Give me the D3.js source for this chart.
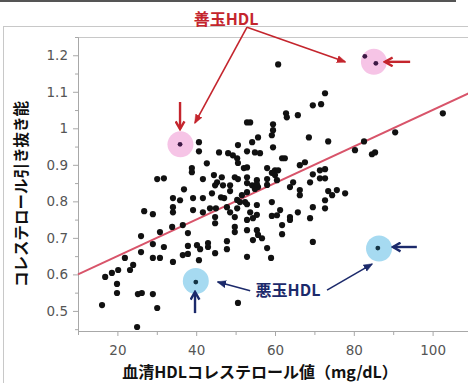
<!DOCTYPE html>
<html>
<head>
<meta charset="utf-8">
<script src="https://cdn.jsdelivr.net/npm/d3@7/dist/d3.min.js"></script>
<style>
  body { margin: 0; background: #fff; }
  svg { display: block; }
</style>
</head>
<body>
<div id="root"></div>
<script>
const WIDTH = 468
const HEIGHT = 383
const PLOT = { left: 78, top: 37, right: 472, bottom: 331 }
const DOT_RADIUS = 3.1
const HALO_RADIUS = 13

const JP_FONT = '"Noto Sans CJK JP", "Noto Sans", sans-serif'
const TICK_FONT = '"DejaVu Sans", Verdana, sans-serif'

const RED = '#c4252d'
const NAVY = '#1c2a6b'

// [serum HDL (mg/dL), cholesterol efflux capacity]
const samples = [
  [60.8, 1.175], [72.7, 1.096], [69.6, 1.063], [71.7, 1.066], [62.8, 1.041], [102.6, 1.041],
  [40.7, 0.962], [40.7, 0.937], [45.8, 0.934], [48.1, 0.932], [49.3, 0.926], [50.4, 0.918],
  [50.6, 0.954], [52.9, 0.937], [42.7, 0.904], [52.1, 0.891], [38.9, 0.891], [38.9, 0.880],
  [30.1, 0.861], [31.8, 0.863], [41.7, 0.861], [44.5, 0.872], [45.3, 0.852], [44.8, 0.844],
  [46.5, 0.866], [46.8, 0.844], [49.8, 0.866], [52.9, 0.866], [36.9, 0.833], [34.1, 0.809],
  [35.9, 0.803], [39.2, 0.809], [41.7, 0.809], [44.0, 0.822], [46.3, 0.811], [47.1, 0.809],
  [48.6, 0.844], [48.6, 0.828], [51.6, 0.817], [52.9, 0.825], [26.8, 0.773], [29.0, 0.765],
  [34.1, 0.784], [34.1, 0.770], [39.2, 0.776], [41.7, 0.770], [43.5, 0.781], [45.0, 0.781],
  [47.8, 0.784], [48.6, 0.770], [50.4, 0.781], [52.9, 0.792],
  [52.9, 1.016], [53.7, 1.016], [59.5, 1.011], [59.5, 0.995], [63.0, 1.030], [65.8, 1.036],
  [54.2, 0.962], [55.7, 0.975], [59.2, 0.981], [59.5, 0.948], [54.9, 0.934], [56.2, 0.932],
  [61.8, 0.918], [62.5, 0.918], [68.6, 0.975], [73.5, 0.964], [52.9, 0.893], [58.0, 0.891],
  [60.0, 0.885], [60.8, 0.885], [55.4, 0.858], [58.0, 0.861], [60.0, 0.872], [60.5, 0.858],
  [52.9, 0.850], [54.2, 0.844], [55.7, 0.839], [66.3, 0.899], [67.6, 0.907], [63.8, 0.839],
  [64.6, 0.852], [66.3, 0.831], [66.3, 0.817], [68.9, 0.852], [69.6, 0.874], [71.4, 0.885],
  [72.7, 0.888], [71.4, 0.863], [72.7, 0.863], [73.5, 0.828], [75.7, 0.831], [74.5, 0.817],
  [77.8, 0.822], [72.7, 0.803], [52.4, 0.798], [55.4, 0.790], [59.2, 0.798], [69.6, 0.784],
  [72.7, 0.781], [80.3, 0.940], [82.6, 0.964], [84.6, 0.929], [85.4, 0.934], [90.5, 0.989],
  [44.8, 0.757], [44.8, 0.740], [49.8, 0.757], [49.8, 0.730], [49.8, 0.716], [52.9, 0.749],
  [52.9, 0.721], [26.0, 0.705], [30.8, 0.716], [33.9, 0.730], [36.6, 0.735], [37.9, 0.713],
  [29.0, 0.683], [31.8, 0.675], [37.9, 0.678], [40.2, 0.680], [41.0, 0.669], [43.0, 0.686],
  [43.0, 0.675], [47.8, 0.691], [47.8, 0.669], [26.0, 0.661], [21.9, 0.645], [29.0, 0.645],
  [30.8, 0.645], [34.1, 0.634], [36.6, 0.653], [37.9, 0.656], [40.7, 0.639], [44.8, 0.658],
  [52.9, 0.648], [24.0, 0.626], [23.2, 0.612], [20.2, 0.612], [18.6, 0.604], [16.9, 0.593],
  [19.9, 0.574], [19.9, 0.549], [25.2, 0.546], [26.2, 0.549], [29.0, 0.546], [16.1, 0.516],
  [30.1, 0.508], [50.6, 0.522], [25.0, 0.456],
  [53.7, 0.770], [54.4, 0.754], [59.2, 0.760], [60.5, 0.762], [63.8, 0.757], [63.8, 0.749],
  [65.8, 0.770], [68.9, 0.754], [55.4, 0.721], [55.7, 0.708], [61.8, 0.735], [61.8, 0.710],
  [54.4, 0.694], [56.7, 0.699], [58.0, 0.672], [69.6, 0.689], [59.0, 0.645],
  [50.6, 0.905], [50.6, 0.861], [54.9, 0.834], [58.0, 0.845], [50.4, 0.804], [51.1, 0.798],
  [55.4, 0.763], [61.3, 0.776], [59.2, 0.878], [55.4, 0.847]
]

// highlighted subjects
const goodHdl = [[82.8, 1.197], [85.6, 1.178], [35.9, 0.956]]
const badHdl = [[39.9, 0.579], [86.1, 0.672]]

// halo centres (data units)
const goodHalos = [[85.1, 1.182], [36.0, 0.956]]
const badHalos = [[39.9, 0.582], [86.4, 0.671]]

// least squares fit
const FIT = { intercept: 0.55, slope: 0.005 }

const xTickLabels = [20, 40, 60, 80, 100]
const xMinorTicks = [10, 30, 50, 70, 90, 110]
const yTickLabels = [0.5, 0.6, 0.7, 0.8, 0.9, 1, 1.1, 1.2]
const yMinorTicks = [0.45, 0.55, 0.65, 0.75, 0.85, 0.95, 1.05, 1.15, 1.25]

const xScale = d3.scaleLinear()
  .domain([10, 110])
  .range([PLOT.left, PLOT.right])

const yScale = d3.scaleLinear()
  .domain([0.445, 1.25])
  .range([PLOT.bottom, PLOT.top])

const svg = d3.select('#root')
  .append('svg')
  .attr('width', WIDTH)
  .attr('height', HEIGHT)

const defs = svg.append('defs')

const addMarker = (id, color, filled) => {
  defs.append('marker')
    .attr('id', id)
    .attr('viewBox', '0 0 10 10')
    .attr('refX', filled ? 9 : 8)
    .attr('refY', 5)
    .attr('markerUnits', 'userSpaceOnUse')
    .attr('markerWidth', filled ? 9 : 11)
    .attr('markerHeight', filled ? 9 : 11)
    .attr('orient', 'auto')
    .append('path')
    .attr('d', filled ? 'M0,1 L10,5 L0,9 Z' : 'M1,1 L8,5 L1,9')
    .attr('fill', filled ? color : 'none')
    .attr('stroke', color)
    .attr('stroke-width', filled ? 0.5 : 2.2)
}

addMarker('red-head', RED, true)
addMarker('red-chevron', RED, false)
addMarker('navy-head', NAVY, true)
addMarker('navy-chevron', NAVY, false)

// frames
svg.append('line')
  .attr('x1', 0).attr('x2', 456)
  .attr('y1', 1).attr('y2', 1)
  .attr('stroke', '#555')
  .attr('stroke-width', 2)

svg.append('rect')
  .attr('x', 3.5).attr('y', 26.5)
  .attr('width', WIDTH + 20).attr('height', HEIGHT)
  .attr('fill', 'none')
  .attr('stroke', '#c8c8c8')

svg.append('line')
  .attr('x1', PLOT.left).attr('x2', PLOT.right)
  .attr('y1', PLOT.top + 0.5).attr('y2', PLOT.top + 0.5)
  .attr('stroke', '#c8c8c8')

// axes
const styleAxis = (g) => {
  g.select('.domain').attr('stroke', '#a8a8a8')
  g.selectAll('.tick line').attr('stroke', '#a8a8a8')
  g.selectAll('.tick text')
    .attr('fill', '#555')
    .style('font-family', TICK_FONT)
    .style('font-size', '13.5px')
}

svg.append('g')
  .attr('transform', `translate(0, ${PLOT.bottom})`)
  .call(d3.axisBottom(xScale).tickValues(xMinorTicks).tickSize(4).tickSizeOuter(0).tickFormat(''))
  .call(styleAxis)

svg.append('g')
  .attr('transform', `translate(0, ${PLOT.bottom})`)
  .call(d3.axisBottom(xScale).tickValues(xTickLabels).tickSize(5).tickSizeOuter(0).tickPadding(9))
  .call(styleAxis)

svg.append('g')
  .attr('transform', `translate(${PLOT.left}, 0)`)
  .call(d3.axisLeft(yScale).tickValues(yMinorTicks).tickSize(3).tickSizeOuter(0).tickFormat(''))
  .call(styleAxis)

svg.append('g')
  .attr('transform', `translate(${PLOT.left}, 0)`)
  .call(d3.axisLeft(yScale).tickValues(yTickLabels).tickSize(5).tickSizeOuter(0).tickPadding(5).tickFormat(d3.format('~g')))
  .call(styleAxis)

// halos behind the points
svg.append('g')
  .selectAll('circle')
  .data(goodHalos)
  .enter()
  .append('circle')
  .attr('cx', d => xScale(d[0]))
  .attr('cy', d => yScale(d[1]))
  .attr('r', HALO_RADIUS)
  .attr('fill', '#f6c4e6')

svg.append('g')
  .selectAll('circle')
  .data(badHalos)
  .enter()
  .append('circle')
  .attr('cx', d => xScale(d[0]))
  .attr('cy', d => yScale(d[1]))
  .attr('r', HALO_RADIUS)
  .attr('fill', '#a6daf1')

// fit line
const fitX = xScale.domain()
svg.append('line')
  .attr('x1', xScale(fitX[0]))
  .attr('y1', yScale(FIT.intercept + FIT.slope * fitX[0]))
  .attr('x2', xScale(fitX[1]))
  .attr('y2', yScale(FIT.intercept + FIT.slope * fitX[1]))
  .attr('stroke', '#d8546a')
  .attr('stroke-width', 2)

// points
svg.append('g')
  .selectAll('circle')
  .data(samples)
  .enter()
  .append('circle')
  .attr('cx', d => xScale(d[0]))
  .attr('cy', d => yScale(d[1]))
  .attr('r', DOT_RADIUS)
  .attr('fill', '#111')

svg.append('g')
  .selectAll('circle')
  .data(goodHdl)
  .enter()
  .append('circle')
  .attr('cx', d => xScale(d[0]))
  .attr('cy', d => yScale(d[1]))
  .attr('r', 2.4)
  .attr('fill', '#3d1a45')

svg.append('g')
  .selectAll('circle')
  .data(badHdl)
  .enter()
  .append('circle')
  .attr('cx', d => xScale(d[0]))
  .attr('cy', d => yScale(d[1]))
  .attr('r', 2.4)
  .attr('fill', '#143445')

// annotations (data units)
const arrows = [
  { from: [52.9, 1.277], to: [39.7, 1.015], color: RED, marker: 'red-head', width: 1.6 },
  { from: [52.9, 1.277], to: [77.8, 1.182], color: RED, marker: 'red-head', width: 1.6 },
  { from: [35.9, 1.072], to: [35.9, 0.998], color: RED, marker: 'red-chevron', width: 2.4 },
  { from: [94.3, 1.182], to: [87.9, 1.182], color: RED, marker: 'red-chevron', width: 2.4 },
  { from: [53.7, 0.555], to: [45.5, 0.579], color: NAVY, marker: 'navy-head', width: 1.6 },
  { from: [73.2, 0.557], to: [84.6, 0.628], color: NAVY, marker: 'navy-head', width: 1.6 },
  { from: [39.7, 0.494], to: [39.7, 0.552], color: NAVY, marker: 'navy-chevron', width: 2.4 },
  { from: [96.0, 0.675], to: [89.9, 0.675], color: NAVY, marker: 'navy-chevron', width: 2.4 }
]

svg.append('g')
  .selectAll('line')
  .data(arrows)
  .enter()
  .append('line')
  .attr('x1', d => xScale(d.from[0]))
  .attr('y1', d => yScale(d.from[1]))
  .attr('x2', d => xScale(d.to[0]))
  .attr('y2', d => yScale(d.to[1]))
  .attr('stroke', d => d.color)
  .attr('stroke-width', d => d.width)
  .attr('marker-end', d => `url(#${d.marker})`)

const labels = [
  { text: '善玉HDL', at: [47.6, 1.283], color: RED },
  { text: '悪玉HDL', at: [63.3, 0.541], color: NAVY }
]

svg.append('g')
  .selectAll('text')
  .data(labels)
  .enter()
  .append('text')
  .attr('x', d => xScale(d.at[0]))
  .attr('y', d => yScale(d.at[1]))
  .attr('text-anchor', 'middle')
  .attr('fill', d => d.color)
  .style('font-family', JP_FONT)
  .style('font-weight', 'bold')
  .style('font-size', '16px')
  .text(d => d.text)

// axis titles
svg.append('text')
  .attr('x', 260)
  .attr('y', 378)
  .attr('text-anchor', 'middle')
  .attr('fill', '#111')
  .style('font-family', JP_FONT)
  .style('font-weight', 'bold')
  .style('font-size', '16px')
  .text('血清HDLコレステロール値（mg/dL）')

svg.append('text')
  .attr('transform', 'translate(27, 194) rotate(-90)')
  .attr('text-anchor', 'middle')
  .attr('fill', '#111')
  .style('font-family', JP_FONT)
  .style('font-weight', 'bold')
  .style('font-size', '15.5px')
  .text('コレステロール引き抜き能')
</script>
</body>
</html>
